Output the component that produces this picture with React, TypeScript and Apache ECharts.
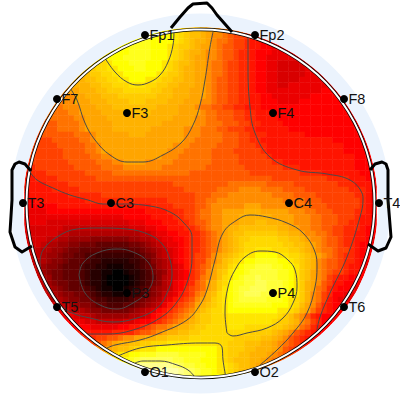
import React, { useEffect, useRef } from "react";
import * as echarts from "echarts";

// Amplitude, one base-36 digit per cell (0 = black ... z = white), rows top to bottom,
// each row centred on the head.
const heatRows: string[] = [
  "qponmmlkkjih",
  "rrqqqponmmlkjjihggfe",
  "qrrrqqqqponmllkjiihggfeedd",
  "qqrrrrqqqponnmlkkjihhggfeeddcc",
  "pqqqrrrrqqqponmllkjjihhgffedddcccc",
  "pqqqrrrrrqqqponmlkkjjihhgffeddcccccc",
  "ooopqqqrrrqqqponmmlkkjiihggffeddccbbbbbc",
  "nnooppqqqrrqqqponmllkkjiihggffeddccbbbbbcc",
  "mmnnooppqqqqqqponnmllkkjiihggffeddccbbbbbccc",
  "llmmnnooppqqqpponnmmllkkjihhggffeddccbbbbccccc",
  "klllmmnnooopppoonnmmlllkkjihhggffeddccbbcccccccd",
  "jkklllmmnnnooooonnmmlllkkkjihhggffeddccccccccccddd",
  "jjjkklllmmmnnnnnnnmmmlllkkkjihhggffeeddcccccccdddddd",
  "jjjjkkklllmmmmnnnmmmmlllkkkjjihhggffeedddccccddddddddd",
  "iijjjkkklllmmmmmmmmllllkkkjiihhggffeeedddddddddddddddd",
  "iiiijjkkkkllllmmmmmlllllkkkkjiihhhggffeeeddddddddddddddd",
  "hiiiiijjkkkkllllllllllllkkkkjjiihhhggffeeeeddddddddddddddd",
  "hhhiiiijkkkkklllllllllkkkkkkjjiiihhhggffeeeedddddddddddddd",
  "hhhhhiiiijkkkkklllllllkkkkkkjjjiiihhgggffeeeeeedddddddddddddd",
  "ghhhhhhiiijkkkkkklllkkkkkkkjjjiiiihhhggfffeeeeeeeddddddddddd",
  "gggghhhhhiijkkkkkkkkkkkkkkkkjjiiiiihhhggffeeeeeeeeeeeeeddddddd",
  "ggggghhhhhiijkkkkkkkkkkkkkjjjiiiiihhhhgggffeeeeeeeeeeeeeeddddd",
  "gggggghhhhiijkkkkkkkkkkkkjjjiiiiihhhhgggggfeeeeeeeeeeeeeeddddd",
  "fgggggghhhhhiijjkkkkkkkkkjjjiiiiiihhhhhgggggfeeeeeeeeeeeeeeedddd",
  "fggggggghhhhhiiijjkkkkjjjjjiiiiiiihhhhhggggggffeeeeeeeeeeeeedddd",
  "ffggggggghhhhhiiiijjjjjjjiiiiiiiihhhhhhhgggggggfffeeeeeeeeeedddd",
  "efffggggggghhhhhiiiiiiiiiiiiiihhhhhhhhhhhgggggggggffffeeeeeeeddd",
  "eeffffggggggghhhhhhhhhhhhhhhhhhhhhhhhhhhhhhhhggggggggggffffeeedd",
  "eeeeffffggggggggggggggggggghhhhhhhhhhiiiiiiihhhhhggggggggfffeeed",
  "eeeeefffffggggggggggggggggggghhhhhhiiiijjjjiiiihhhhggggggggfffed",
  "deeeeeeeffffffggggggggggggggggghhhiiijjjjjjjjiiiihhhhgggggggffed",
  "ddeeeeeeeeefffffffffffffffggggghhiijjjjjjjjjjjjiiiihhhgggggggfed",
  "ddddddeeeeeeeeeeeeeeeeeffffgggghhijjjjjjkkkjjjjjjiiihhhggggggfed",
  "ccccddddddddddddddddddeeeefffgghiijjkkkklllkkkkkjjjiihhhggggffed",
  "ccccccccccccccccccdddddeeeeffgghiijjkkkllllllkkkkjjjiihhhgggfeed",
  "ccccbbbbbbbbbbbbbbbcccdddeeeffghhijjkkklllmmlllkkjjjiihhhggffeed",
  "cbbbbbbaaaaaaaaaaaabbbccddeeeffghijjkllmmmmmmmllkkjjiihhggfffedd",
  "bbbbbbaa9999999999999aabccddeeffghijklmmnnnnnnmmllkjjiihggffeedd",
  "bbbbaa99888877777778899abccddeffghijklmnnooooonnmmlkjjihhgffeedc",
  "bbba99887766655555566789abccdeffghijklmnooooooonnmmlkjihhgffeddc",
  "aaa9988766555544444556789abcdeffghijklmnoopppooonnmlkjiihggfeddc",
  "aaa9887665544333333345679abcdefgghjklmnoppqqqqppoonmlkjihgffeddc",
  "aaa987765554332222233457 89acdefggijkmnopqqrrrrqqponmljihhgffedcc".replace(" ", "").slice(0, 64),
  "aaa87765554332211122345689abcefghiklmopqrrsssrrqqpnmljihhgfeedcc",
  "baa87665554322110012234678abcdfghjkmnpqqrsssssrrqpnmkjihggfeedcc",
  "baa98665554322100001234579abcdfgijkmopqrsstsssrrqpnmkjigfeedddcc",
  "baaa8766554322100001234679acdefhiklnoqrrssttsssrqpnlkjhgeedddccc",
  "cbaa9876555432110012345789acdfghiklnpqrsstttsssrqpnlkihfedddcccc",
  "cbbaa98776654322112334678abcefgijlmopqrstttsssrrqpnljigfddcccccc",
  "99877665443333456789bcefghjklnopqrsssssrrrqponljigedcc",
  "baa9877655444556789acefghiklmnopqrrrrrrrqqqpomkjhfeddd",
  "cba9987766666789abdefghijlmnoopqqqqqqqqqpponlkigfedd",
  "ccbaa988888899abdefghijkmnnoooppppppppponmkjhfedd",
  "dccbbaaaaabbcddefghijklmnnooopppppppponnmljigfdd",
  "dddcccccddeefghiijkllmnnoooopppooooonnmlkihfed",
  "eeeeeeffffghhijkllmmnnooooooooonnnnmlkjhgfed",
  "ffgghhijjkkllmmnnnnoooooooonnnnnmmlkjhgfed",
  "ghijkllmmnnooopppppppppoonnnmmmllkjihgfe",
  "jklmmnopppqqqqqqqqqqqponnnmmlllkjhgf",
  "mnppqqrrrssssrrrrrqqponnmmlllkjihg",
  "pqrsttttttssrrrqqqponmmmllkjih",
  "tuvvvvvvutssrrqqpponmmlkji",
  "wwwxwwvutsrrqpponmlk",
  "wvuutsrrqqpo",
];
const gridSize = 64;

// level, r, g, b: the colour scale's anchors
const colorAnchors = [
  [0, 0, 0, 0],
  [13, 255, 0, 0],
  [15, 255, 40, 0],
  [20, 255, 165, 0],
  [25, 255, 230, 0],
  [26, 255, 255, 0],
  [35, 255, 255, 255],
];

const electrodeNames = ["Fp1", "Fp2", "F7", "F3", "F4", "F8", "T3", "C3", "C4", "T4", "T5", "P3", "P4", "T6", "O1", "O2"];
const electrodeX = [145, 255, 57, 127, 273, 344, 23, 111, 289, 379, 57, 127, 273, 344, 145, 255];
const electrodeY = [35, 35, 99, 113, 113, 99, 203, 203, 203, 203, 307, 293, 293, 307, 372, 372];

const contourA: number[][] = [[105, 58], [115, 72], [127, 82], [138, 85], [150, 82], [160, 75], [168, 62], [173, 45], [174, 31]];
const contourB: number[][] = [[70, 88], [77, 100], [85, 123], [95, 140], [110, 155], [127, 162], [143, 162], [163, 155], [182, 142], [193, 125], [200, 105], [205, 80], [210, 47], [213, 32]];
const contourC: number[][] = [[30, 172], [37, 180], [53, 188], [70, 195], [88, 200], [103, 204], [120, 204], [150, 206], [170, 212], [183, 222], [192, 237], [192, 257], [188, 280], [177, 302], [160, 318], [133, 330], [107, 334], [88, 334]];
const contourD: number[][] = [[40, 262], [43, 250], [57, 237], [77, 229], [100, 228], [127, 229], [150, 235], [163, 245], [170, 260], [172, 275], [167, 293], [157, 308], [137, 318], [113, 322], [90, 318], [70, 312], [55, 300], [45, 285], [41, 272], [40, 262]];
const contourE: number[][] = [[79, 275], [83, 263], [97, 253], [117, 249], [133, 252], [148, 262], [153, 277], [147, 292], [133, 303], [117, 309], [100, 305], [85, 293], [79, 275]];
const contourF: number[][] = [[248, 38], [248, 67], [250, 107], [255, 133], [270, 157], [297, 170], [327, 174], [350, 180], [362, 193], [363, 200], [360, 217], [347, 257], [330, 293], [320, 317], [317, 330]];
const contourG: number[][] = [[107, 348], [115, 345], [140, 340], [160, 333], [187, 320], [200, 305], [207, 290], [215, 260], [223, 233], [237, 220], [250, 215], [267, 217], [287, 223], [303, 233], [315, 252], [317, 267], [315, 287], [307, 313], [293, 333], [277, 350], [260, 365]];
const contourH: number[][] = [[118, 356], [140, 348], [167, 345], [200, 343], [215, 343], [222, 347], [223, 360], [226, 378]];
const contourI: number[][] = [[227, 333], [225, 313], [228, 287], [235, 270], [245, 257], [260, 251], [275, 252], [288, 260], [295, 270], [297, 287], [293, 303], [283, 318], [267, 328], [247, 333], [233, 336], [227, 333]];
const contourJ: number[][] = [[135, 363], [143, 361], [160, 361], [177, 365], [188, 370], [195, 377], [197, 380]];
const contours = [contourA, contourB, contourC, contourD, contourE, contourF, contourG, contourH, contourI, contourJ];

const noseLine: number[][] = [[171, 28], [180, 17], [188, 8], [193, 4], [207, 3], [212, 8], [217, 15], [232, 32]];
const leftEarLine: number[][] = [[31, 171], [25, 164], [19, 162], [15, 164], [12, 170], [12, 200], [10, 232], [15, 247], [22, 252], [32, 246]];
const rightEarLine: number[][] = [[370, 170], [375, 164], [382, 162], [386, 164], [388, 170], [388, 200], [391, 237], [386, 248], [378, 251], [368, 244]];

// How far the coloured disc reaches from the head centre, every 15 degrees clockwise from the top to the bottom.
const discEdge = [176.5, 176.5, 176.5, 176.5, 176.5, 177, 177.5, 178, 179, 178, 177, 176, 175.5];

const cx = 200.5;
const cy = 203.5;

const hexPair = (v: number) => Math.round(v).toString(16).padStart(2, "0");
const levelColors: string[] = [];
for (let level = 0; level <= 35; level++) {
  let k = 0;
  while (k < colorAnchors.length - 2 && level > colorAnchors[k + 1][0]) k++;
  const [l0, r0, g0, b0] = colorAnchors[k];
  const [l1, r1, g1, b1] = colorAnchors[k + 1];
  const t = (level - l0) / (l1 - l0);
  levelColors.push("#" + hexPair(r0 + (r1 - r0) * t) + hexPair(g0 + (g1 - g0) * t) + hexPair(b0 + (b1 - b0) * t));
}

const heatData: number[][] = [];
heatRows.forEach((row, j) => {
  const offset = Math.floor((gridSize - row.length) / 2);
  for (let k = 0; k < row.length; k++) heatData.push([offset + k, j, parseInt(row[k], 36)]);
  // two spare cells each side stay behind the mask's edge
  for (let s = 1; s <= 2; s++) {
    if (offset - s >= 0) heatData.push([offset - s, j, parseInt(row[0], 36)]);
    if (offset + row.length - 1 + s < gridSize) heatData.push([offset + row.length - 1 + s, j, parseInt(row[row.length - 1], 36)]);
  }
});
const cellNames = Array.from({ length: gridSize }, (_, i) => String(i));

// hole outline, walked counter-clockwise so that it cuts through the clockwise outer outlines
const holePath = () => {
  const parts: string[] = [];
  for (let deg = 360; deg > 0; deg -= 2) {
    const folded = deg > 180 ? 360 - deg : deg;
    const idx = folded / 15;
    const lo = Math.min(Math.floor(idx), discEdge.length - 2);
    const r = discEdge[lo] + (discEdge[lo + 1] - discEdge[lo]) * (idx - lo);
    const a = (deg * Math.PI) / 180;
    const x = cx + r * Math.sin(a);
    const y = cy - r * Math.cos(a);
    parts.push((parts.length ? "L" : "M") + x.toFixed(2) + " " + y.toFixed(2));
  }
  return parts.join(" ") + " Z";
};
const haloRadius = 190;
echarts.graphic.registerShape("sheetMask", echarts.graphic.extendPath("M0 0 H400 V400 H0 Z " + holePath(), {}));
echarts.graphic.registerShape(
  "haloBand",
  echarts.graphic.extendPath(
    `M${cx} ${cy - haloRadius} A${haloRadius} ${haloRadius} 0 0 1 ${cx} ${cy + haloRadius} A${haloRadius} ${haloRadius} 0 0 1 ${cx} ${cy - haloRadius} Z ` + holePath(),
    {},
  ),
);

export default function App() {
  const ref = useRef<HTMLDivElement>(null);
  useEffect(() => {
    const chart = echarts.init(ref.current!, undefined, { renderer: "svg" });
    const line = (points: number[][], name: string) => ({
      type: "polyline",
      id: name,
      z: 6,
      shape: { points },
      style: { stroke: "#000", lineWidth: 3, fill: "none", lineJoin: "round" },
    });
    chart.setOption({
      animation: false,
      backgroundColor: "#fff",
      tooltip: { show: false },
      grid: [
        { left: 24.5, top: 27.5, width: 352, height: 352 },
        { left: 0, top: 0, width: 400, height: 400 },
      ],
      xAxis: [
        { type: "category", gridIndex: 0, data: cellNames, show: false },
        { type: "value", gridIndex: 1, min: 0, max: 400, show: false },
      ],
      yAxis: [
        { type: "category", gridIndex: 0, data: cellNames, inverse: true, show: false },
        { type: "value", gridIndex: 1, min: 0, max: 400, inverse: true, show: false },
      ],
      visualMap: { show: false, min: 0, max: 35, seriesIndex: 0, dimension: 2, inRange: { color: levelColors } },
      series: [
        {
          type: "heatmap",
          xAxisIndex: 0,
          yAxisIndex: 0,
          data: heatData,
          z: 1,
          progressive: 0,
          silent: true,
          itemStyle: { borderWidth: 0 },
        },
        ...contours.map((points) => ({
          type: "line",
          xAxisIndex: 1,
          yAxisIndex: 1,
          data: points,
          z: 2,
          smooth: 0.4,
          symbol: "none",
          silent: true,
          clip: false,
          lineStyle: { color: "#4a4a4a", width: 1 },
        })),
        {
          type: "scatter",
          xAxisIndex: 1,
          yAxisIndex: 1,
          z: 10,
          symbolSize: 8,
          silent: true,
          itemStyle: { color: "#000", opacity: 1 },
          data: electrodeNames.map((name, i) => ({ name, value: [electrodeX[i], electrodeY[i]] })),
          label: {
            show: true,
            position: "right",
            distance: 0.5,
            formatter: "{b}",
            color: "#111",
            fontFamily: "Liberation Sans",
            fontSize: 14.5,
          },
        },
      ],
      graphic: [
        { type: "sheetMask", id: "mask", x: 0, y: 0, z: 3, style: { fill: "#fff" } },
        { type: "haloBand", id: "halo", x: 0, y: 0, z: 4, style: { fill: "#ebf3fd" } },
        { type: "circle", id: "rimOuter", z: 5, shape: { cx, cy, r: 174 }, style: { fill: "none", stroke: "#000", lineWidth: 3.4 } },
        { type: "circle", id: "rimInner", z: 5.5, shape: { cx, cy, r: 174 }, style: { fill: "none", stroke: "#fff", lineWidth: 2 } },
        line(noseLine, "nose"),
        line(leftEarLine, "leftEar"),
        line(rightEarLine, "rightEar"),
      ],
    });
    return () => chart.dispose();
  }, []);
  return <div ref={ref} style={{ position: "absolute", left: 0, top: 0, width: 400, height: 400 }} />;
}
